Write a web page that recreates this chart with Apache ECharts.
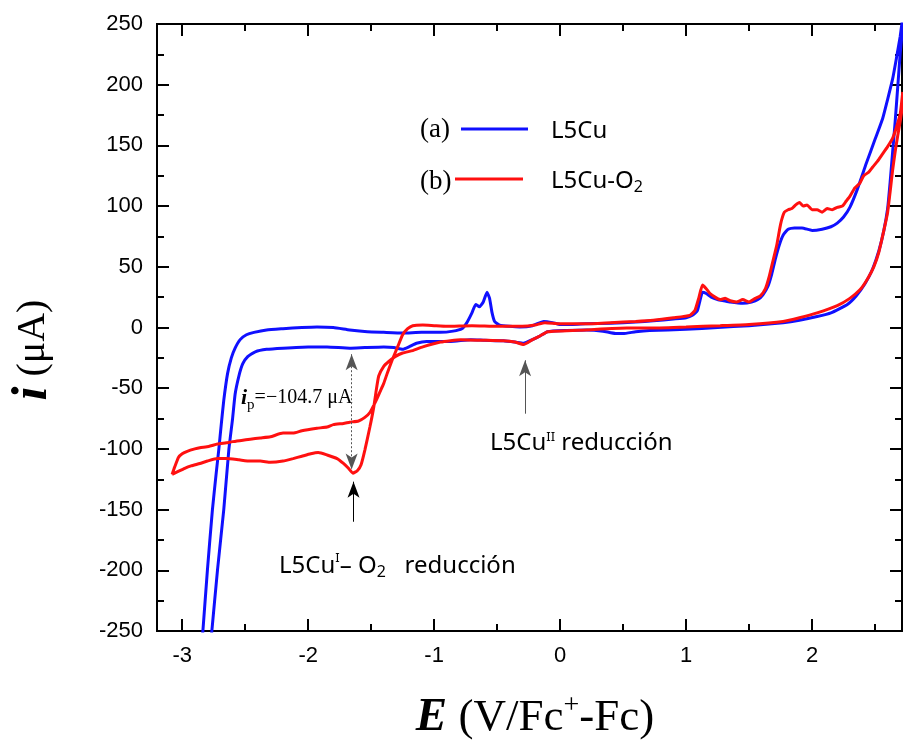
<!DOCTYPE html>
<html><head><meta charset="utf-8">
<script src="https://cdn.jsdelivr.net/npm/echarts@6/dist/echarts.min.js"></script>
<style>html,body{margin:0;padding:0;background:#fff}#c{width:903px;height:740px}</style>
</head><body><div id="c"></div>
<script>
// ---- data (E in V vs Fc+/Fc, i in µA) ----
const blueE = [-2.84,-2.80,-2.76,-2.73,-2.71,-2.69,-2.67,-2.64,-2.61,-2.58,-2.54,-2.49,-2.43,-2.33,-2.20,-2.05,-1.93,-1.80,-1.67,-1.53,-1.40,-1.25,-1.10,-0.95,-0.85,-0.78,-0.74,-0.70,-0.67,-0.64,-0.61,-0.58,-0.56,-0.54,-0.52,-0.48,-0.40,-0.32,-0.22,-0.13,-0.06,0.00,0.10,0.20,0.40,0.60,0.74,0.90,1.00,1.05,1.09,1.11,1.13,1.16,1.20,1.25,1.30,1.35,1.45,1.52,1.57,1.61,1.65,1.68,1.71,1.74,1.77,1.81,1.86,1.92,2.00,2.08,2.15,2.20,2.25,2.30,2.36,2.43,2.50,2.56,2.60,2.64,2.67,2.70,2.72,
  2.72,2.70,2.68,2.66,2.64,2.62,2.60,2.57,2.53,2.48,2.42,2.35,2.28,2.15,2.04,1.90,1.77,1.50,1.25,1.00,0.71,0.60,0.50,0.44,0.34,0.21,0.05,-0.10,-0.16,-0.22,-0.29,-0.36,-0.45,-0.60,-0.71,-0.87,-1.06,-1.14,-1.20,-1.25,-1.32,-1.40,-1.55,-1.67,-1.85,-2.00,-2.20,-2.33,-2.42,-2.48,-2.52,-2.55,-2.58,-2.60,-2.63,-2.67,-2.72,-2.77];
const blueI = [-256,-200,-150,-120,-101,-80,-60,-38,-25,-17,-10,-6,-4,-2,-1,0,0.5,0,-2,-3.5,-4,-4.5,-4,-4,-3,-1,4,12,19,17,21,29,24,12,5,2,1,0.5,1.5,5,4,2.5,2.5,3,3.5,4.5,5.5,7,8,10,14,22,29,28,25,23,22,21,20,21,23,27,34,44,57,68,76,81,82,82,80,81,83,86,91,99,114,135,155,172,188,205,222,240,256,
  250,226,198,170,145,120,98,80,63,48,36,26,19,12,9,6,4,1.5,0,-1.5,-2.5,-3.5,-5,-5,-3,-2,-2.5,-3.5,-7,-10,-13,-12,-11,-10.5,-10,-11.5,-11.5,-13,-16,-18,-16.5,-16,-16.5,-17,-16,-16,-17,-18,-20,-24,-30,-40,-55,-75,-101,-150,-200,-256];
const redE = [-3.08,-3.06,-3.03,-3.00,-2.96,-2.90,-2.86,-2.79,-2.72,-2.65,-2.60,-2.53,-2.46,-2.38,-2.30,-2.20,-2.12,-2.05,-1.93,-1.85,-1.80,-1.72,-1.67,-1.60,-1.55,-1.51,-1.46,-1.43,-1.40,-1.37,-1.33,-1.29,-1.25,-1.21,-1.17,-1.09,-1.00,-0.90,-0.70,-0.50,-0.30,-0.20,-0.12,0.00,0.20,0.40,0.60,0.74,0.90,1.03,1.07,1.10,1.13,1.16,1.19,1.23,1.27,1.31,1.35,1.40,1.45,1.50,1.55,1.59,1.63,1.66,1.69,1.72,1.75,1.78,1.81,1.84,1.87,1.90,1.93,1.96,2.00,2.04,2.08,2.12,2.16,2.20,2.24,2.27,2.30,2.34,2.38,2.41,2.45,2.48,2.52,2.56,2.60,2.64,2.67,2.70,2.72,
  2.72,2.70,2.68,2.66,2.64,2.62,2.60,2.57,2.53,2.49,2.44,2.38,2.30,2.20,2.04,1.90,1.77,1.50,1.27,1.00,0.71,0.53,0.21,-0.10,-0.16,-0.22,-0.29,-0.36,-0.45,-0.60,-0.79,-0.95,-1.09,-1.17,-1.25,-1.31,-1.36,-1.40,-1.44,-1.46,-1.48,-1.51,-1.55,-1.58,-1.61,-1.645,-1.68,-1.72,-1.77,-1.85,-1.92,-1.98,-2.05,-2.12,-2.20,-2.30,-2.38,-2.46,-2.55,-2.65,-2.72,-2.80,-2.86,-2.93,-2.98,-3.04,-3.08];
const redI = [-121,-115,-107,-104,-102,-100,-99,-98,-96,-95,-94,-93,-92,-91,-90,-87,-87,-85,-83,-82,-80,-79,-78,-77,-74,-70,-60,-53,-46,-37,-26,-16,-6,-1,1.5,2,1.5,1,1.5,1,1,2,4,3,3,4,5,6,8,10,14,24,35,32,28,25,23,24,22,21,23,21,24,26,32,42,55,68,85,95,97,98,101,103,100,101,97,97,95,98,97,99,100,104,108,115,119,125,128,132,137,143,149,156,165,176,194,
  185,170,158,145,130,112,95,80,62,50,40,31,24,18,12,8,5,2.5,1.5,0.5,-0.5,-0.5,-2,-3.5,-7,-10,-14,-12,-11,-10.5,-10,-12,-16,-19,-21,-24,-28,-32,-40,-52,-66,-82,-101,-113,-118,-120,-116,-112,-108,-105,-103,-104,-106,-108,-110,-111,-110,-110,-109,-108,-108,-110,-112,-114,-116,-119,-121];
const xMajorTicks = [-3, -2, -1, 0, 1, 2];
const xMinorTicks = [-2.5, -1.5, -0.5, 0.5, 1.5, 2.5];
const yTickLabels = [-250, -200, -150, -100, -50, 0, 50, 100, 150, 200, 250];
const seriesNames = ['L5Cu', 'L5Cu-O2'];

const zip = (a, b) => a.map((v, i) => [v, b[i]]);
const X_MIN = -3.2, X_MAX = 2.714;
const AX = '#000';

function xAx(pos, ticks, len, labels) {
  return {
    type: 'value', position: pos, min: X_MIN, max: X_MAX,
    axisLine: { show: true, onZero: false, lineStyle: { color: AX, width: 2 } },
    axisTick: { show: true, inside: true, length: len, customValues: ticks, lineStyle: { color: AX, width: 2 } },
    axisLabel: labels ? { show: true, customValues: ticks, fontSize: 22, color: AX, margin: 14, fontFamily: 'Liberation Sans' } : { show: false },
    splitLine: { show: false }
  };
}
function yAx(pos, labels) {
  return {
    type: 'value', position: pos, min: -250, max: 250, interval: 50,
    axisLine: { show: true, onZero: false, lineStyle: { color: AX, width: 2 } },
    axisTick: { show: true, inside: true, length: 12, lineStyle: { color: AX, width: 2 } },
    minorTick: { show: true, splitNumber: 2, length: 7, lineStyle: { color: AX, width: 2 } },
    axisLabel: labels ? { show: true, fontSize: 22, color: AX, margin: 14, fontFamily: 'Liberation Sans',
      customValues: yTickLabels } : { show: false },
    splitLine: { show: false }
  };
}

const chart = echarts.init(document.getElementById('c'), null, { renderer: 'canvas' });
const solidArrow = { type: 'solid', color: '#000', width: 1 };
chart.setOption({
  animation: false,
  backgroundColor: '#fff',
  grid: { left: 157, top: 24, right: 1, bottom: 109 },
  xAxis: [xAx('bottom', xMajorTicks, 12, true), xAx('bottom', xMinorTicks, 7, false), xAx('top', xMajorTicks, 12, false), xAx('top', xMinorTicks, 7, false)],
  yAxis: [yAx('left', true), yAx('right', false)],
  series: [
    { name: seriesNames[0], type: 'line', data: zip(blueE, blueI), showSymbol: false, smooth: 0.15, clip: true,
      lineStyle: { color: '#1010ff', width: 3 }, z: 2 },
    { name: seriesNames[1], type: 'line', data: zip(redE, redI), showSymbol: false, smooth: 0.15, clip: true,
      lineStyle: { color: '#ff1010', width: 3 }, z: 3,
      markLine: {
        silent: true, animation: false, label: { show: false }, symbolSize: [9, 16],
        lineStyle: { type: 'solid', color: '#000', width: 1 },
        itemStyle: { color: '#000' },
        data: [
          [{ coord: [-1.655, -22], symbol: 'arrow', lineStyle: { type: [2, 2], color: '#555', width: 1 } }, { coord: [-1.655, -117], symbol: 'arrow' }],
          [{ coord: [-1.64, -160], symbol: 'none', lineStyle: solidArrow }, { coord: [-1.64, -127], symbol: 'arrow' }],
          [{ coord: [-0.278, -71], symbol: 'none', lineStyle: { type: 'solid', color: '#555', width: 1 } }, { coord: [-0.278, -27], symbol: 'arrow' }]
        ]
      }
    }
  ],
  graphic: [
    // y axis title
    { type: 'text', x: 33, y: 350, rotation: Math.PI / 2,
      style: { text: '{i|i}{t| (μA)}', align: 'center', verticalAlign: 'middle', textAlign: 'center', textVerticalAlign: 'middle',
        rich: { i: { fontFamily: 'Liberation Serif', fontSize: 50, fontWeight: 'bold', fontStyle: 'italic', fill: '#000' },
                t: { fontFamily: 'Liberation Serif', fontSize: 40, fill: '#000' } } } },
    // x axis title
    { type: 'text', x: 535, y: 718,
      style: { text: '{e|E}{t| (V/Fc}{s|+}{t|-Fc)}', align: 'center', verticalAlign: 'middle', textAlign: 'center', textVerticalAlign: 'middle',
        rich: { e: { fontFamily: 'Liberation Serif', fontSize: 47, fontWeight: 'bold', fontStyle: 'italic', fill: '#000' },
                t: { fontFamily: 'Liberation Serif', fontSize: 45, fill: '#000' },
                s: { fontFamily: 'Liberation Serif', fontSize: 28, fill: '#000', verticalAlign: 'bottom', padding: [0, 0, 24, 0] } } } },
    // legend
    { type: 'text', x: 420, y: 130, style: { text: '(a)', font: '27px "Liberation Serif"', fill: '#000', textVerticalAlign: 'middle', verticalAlign: 'middle' } },
    { type: 'line', shape: { x1: 461, y1: 129, x2: 528, y2: 129 }, style: { stroke: '#1010ff', lineWidth: 3 } },
    { type: 'text', x: 551, y: 131, style: { text: seriesNames[0], font: '24px "Noto Sans"', fill: '#000', textVerticalAlign: 'middle', verticalAlign: 'middle' } },
    { type: 'text', x: 420, y: 182, style: { text: '(b)', font: '27px "Liberation Serif"', fill: '#000', textVerticalAlign: 'middle', verticalAlign: 'middle' } },
    { type: 'line', shape: { x1: 455, y1: 179, x2: 523, y2: 179 }, style: { stroke: '#ff1010', lineWidth: 3 } },
    { type: 'text', x: 551, y: 181,
      style: { text: '{t|L5Cu-O}{sub|2}', verticalAlign: 'middle', textVerticalAlign: 'middle',
        rich: { t: { fontFamily: 'Noto Sans', fontSize: 24, fill: '#000' },
                sub: { fontFamily: 'Noto Sans', fontSize: 16, fill: '#000', verticalAlign: 'bottom', padding: [12, 0, 0, 0] } } } },
    // annotations
    { type: 'text', x: 241, y: 398,
      style: { text: '{i|i}{p|p}{t|=−104.7 μA}', verticalAlign: 'middle', textVerticalAlign: 'middle',
        rich: { i: { fontFamily: 'Liberation Serif', fontSize: 22, fontWeight: 'bold', fontStyle: 'italic', fill: '#000' },
                p: { fontFamily: 'Liberation Serif', fontSize: 15, fill: '#000', verticalAlign: 'bottom', padding: [14, 0, 0, 0] },
                t: { fontFamily: 'Liberation Serif', fontSize: 20, fill: '#000' } } } },
    { type: 'text', x: 490, y: 443,
      style: { text: '{t|L5Cu}{s|II}{t| reducción}', verticalAlign: 'middle', textVerticalAlign: 'middle',
        rich: { t: { fontFamily: 'Noto Sans', fontSize: 24, fill: '#000' },
                s: { fontFamily: 'Noto Sans', fontSize: 13, fill: '#000', verticalAlign: 'top' } } } },
    { type: 'text', x: 279, y: 566,
      style: { text: '{t|L5Cu}{s|I}{t|– O}{b|2}{t|   reducción}', verticalAlign: 'middle', textVerticalAlign: 'middle',
        rich: { t: { fontFamily: 'Noto Sans', fontSize: 24, fill: '#000' },
                s: { fontFamily: 'Noto Sans', fontSize: 13, fill: '#000', verticalAlign: 'top' },
                b: { fontFamily: 'Noto Sans', fontSize: 16, fill: '#000', verticalAlign: 'bottom', padding: [12, 0, 0, 0] } } } }
  ]
});
</script></body></html>
